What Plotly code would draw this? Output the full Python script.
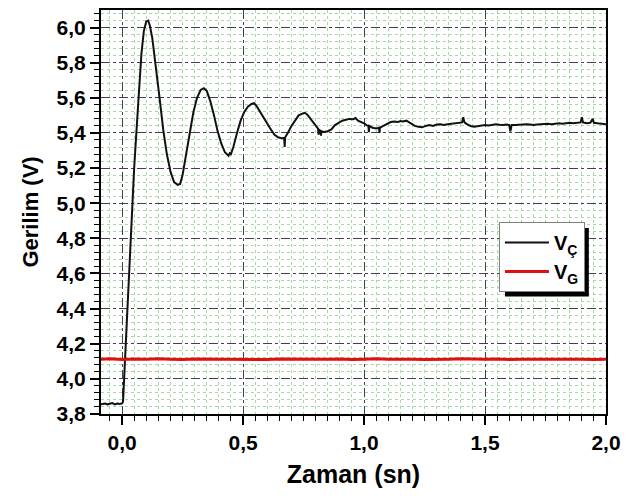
import plotly.graph_objects as go

# ---- data ----
vc_t = [-0.087, -0.07, -0.06, -0.05, -0.04, -0.03, -0.02, -0.01, 0.0, 0.004,
        0.01, 0.02, 0.03, 0.04, 0.05, 0.06, 0.07, 0.08, 0.09, 0.1, 0.108, 0.115, 0.125, 0.14,
        0.155, 0.17, 0.185, 0.2, 0.215, 0.23, 0.24, 0.25, 0.265, 0.28, 0.295, 0.31, 0.325,
        0.338, 0.35, 0.365, 0.38, 0.395, 0.41, 0.425, 0.44, 0.445, 0.45, 0.46, 0.475, 0.49,
        0.505, 0.52, 0.535, 0.545, 0.555, 0.57, 0.585, 0.6, 0.615, 0.63, 0.645, 0.66, 0.67,
        0.672, 0.674, 0.685, 0.7, 0.715, 0.73, 0.745, 0.755, 0.765, 0.78, 0.795, 0.81, 0.812,
        0.814, 0.82, 0.822, 0.824, 0.835, 0.85, 0.865, 0.88, 0.895, 0.91, 0.925, 0.94, 0.955,
        0.965, 0.975, 0.985, 0.99, 1.0, 1.01, 1.018, 1.02, 1.022, 1.035, 1.05, 1.062, 1.064,
        1.066, 1.08, 1.095, 1.11, 1.125, 1.14, 1.15, 1.16, 1.175, 1.19, 1.2, 1.21, 1.225,
        1.24, 1.255, 1.27, 1.285, 1.3, 1.315, 1.33, 1.345, 1.36, 1.375, 1.39, 1.405, 1.41,
        1.415, 1.425, 1.44, 1.455, 1.47, 1.485, 1.5, 1.515, 1.53, 1.545, 1.56, 1.575, 1.59,
        1.6, 1.605, 1.61, 1.625, 1.64, 1.655, 1.67, 1.685, 1.7, 1.715, 1.73, 1.745, 1.76,
        1.775, 1.79, 1.805, 1.82, 1.835, 1.85, 1.865, 1.88, 1.895, 1.9, 1.905, 1.92, 1.935,
        1.945, 1.95, 1.965, 1.98, 2.0]
vc_v = [3.855, 3.86, 3.855, 3.858, 3.862, 3.855, 3.86, 3.857, 3.86, 3.87,
        4.05, 4.35, 4.62, 4.95, 5.2, 5.42, 5.65, 5.85, 5.98, 6.035, 6.04, 6.01, 5.94, 5.78,
        5.6, 5.42, 5.28, 5.18, 5.12, 5.105, 5.11, 5.16, 5.27, 5.4, 5.52, 5.6, 5.645,
        5.655, 5.64, 5.58, 5.5, 5.41, 5.34, 5.29, 5.27, 5.285, 5.28, 5.32, 5.4, 5.47,
        5.52, 5.55, 5.565, 5.57, 5.555, 5.52, 5.49, 5.455, 5.42, 5.39, 5.375, 5.37, 5.372,
        5.32, 5.375, 5.4, 5.44, 5.47, 5.5, 5.51, 5.515, 5.505, 5.48, 5.45, 5.425, 5.39,
        5.42, 5.41, 5.385, 5.41, 5.405, 5.41, 5.42, 5.445, 5.46, 5.47, 5.475, 5.48, 5.478,
        5.485, 5.47, 5.465, 5.46, 5.455, 5.445, 5.44, 5.405, 5.44, 5.43, 5.425, 5.43, 5.4,
        5.43, 5.44, 5.455, 5.462, 5.465, 5.462, 5.468, 5.465, 5.47, 5.455, 5.445, 5.44, 5.435,
        5.432, 5.44, 5.445, 5.44, 5.448, 5.45, 5.446, 5.45, 5.452, 5.455, 5.458, 5.46, 5.49,
        5.46, 5.45, 5.44, 5.435, 5.438, 5.44, 5.445, 5.442, 5.448, 5.45, 5.447, 5.445, 5.448,
        5.445, 5.41, 5.445, 5.446, 5.448, 5.447, 5.45, 5.448, 5.445, 5.448, 5.45, 5.449, 5.452,
        5.45, 5.452, 5.455, 5.452, 5.455, 5.458, 5.455, 5.458, 5.46, 5.49, 5.46, 5.455, 5.458,
        5.48, 5.458, 5.455, 5.452, 5.45]

vg_t = [-0.087, -0.05, 0.0, 0.05, 0.1, 0.15, 0.2, 0.25, 0.3, 0.35, 0.4, 0.45, 0.5, 0.55,
        0.6, 0.65, 0.7, 0.75, 0.8, 0.85, 0.9, 0.95, 1.0, 1.05, 1.1, 1.15, 1.2, 1.25, 1.3,
        1.35, 1.4, 1.45, 1.5, 1.55, 1.6, 1.65, 1.7, 1.75, 1.8, 1.85, 1.9, 1.95, 2.0]
vg_v = [4.112, 4.114, 4.11, 4.113, 4.111, 4.114, 4.112, 4.11, 4.113, 4.112, 4.114, 4.111,
        4.113, 4.112, 4.11, 4.113, 4.112, 4.114, 4.111, 4.112, 4.113, 4.11, 4.112, 4.114,
        4.111, 4.113, 4.112, 4.11, 4.113, 4.112, 4.114, 4.111, 4.112, 4.113, 4.11, 4.112,
        4.114, 4.112, 4.111, 4.113, 4.112, 4.11, 4.112]

names = ["<b>V<sub>Ç</sub></b>", "<b>V<sub>G</sub></b>"]

FONT = "Liberation Sans, Arial, sans-serif"

fig = go.Figure()
fig.add_trace(go.Scatter(x=vc_t, y=vc_v, mode="lines", name=names[0],
                         line=dict(color="#111111", width=2)))
fig.add_trace(go.Scatter(x=vg_t, y=vg_v, mode="lines", name=names[1],
                         line=dict(color="#e01010", width=3)))

axis_common = dict(
    showline=True, linecolor="black", linewidth=2, mirror=True,
    ticks="outside", ticklen=9, tickwidth=1.5, tickcolor="black",
    showgrid=True, gridcolor="#404050", griddash="dashdot", gridwidth=1,
    zeroline=False, tickformat=".1f",
    tickfont=dict(family=FONT, size=21, color="black", weight="bold"),
)

fig.update_xaxes(range=[-0.087, 2.0], dtick=0.5, tick0=0,
                 minor=dict(dtick=0.05, ticklen=5, tickwidth=1, tickcolor="black",
                            ticks="outside", showgrid=True, gridcolor="#a6d9a6",
                            griddash="dot", gridwidth=1),
                 title=dict(text="Zaman (sn)", standoff=12,
                            font=dict(family=FONT, size=25, color="black", weight="bold")),
                 **axis_common)
fig.update_yaxes(range=[3.8, 6.1], dtick=0.2, tick0=3.8,
                 minor=dict(dtick=0.04, ticklen=5, tickwidth=1, tickcolor="black",
                            ticks="outside", showgrid=True, gridcolor="#a6d9a6",
                            griddash="dot", gridwidth=1),
                 title=dict(text="Gerilim (V)", standoff=12,
                            font=dict(family=FONT, size=22, color="black", weight="bold")),
                 **axis_common)

# legend shadow
fig.add_shape(type="rect", xref="paper", yref="paper",
              x0=0.800, x1=0.966, y0=0.2906, y1=0.4606,
              fillcolor="black", line=dict(width=0), layer="above")

fig.update_layout(
    width=635, height=499,
    margin=dict(l=101, r=29, t=8, b=85),
    paper_bgcolor="white", plot_bgcolor="white",
    separators=",.",
    showlegend=True,
    legend=dict(x=0.788, y=0.475, xanchor="left", yanchor="top",
                bgcolor="white", bordercolor="#808080", borderwidth=1,
                font=dict(family=FONT, size=20, color="black"),
                itemwidth=44, tracegroupgap=0),
    font=dict(family=FONT),
)

fig.write_html("out.html")
